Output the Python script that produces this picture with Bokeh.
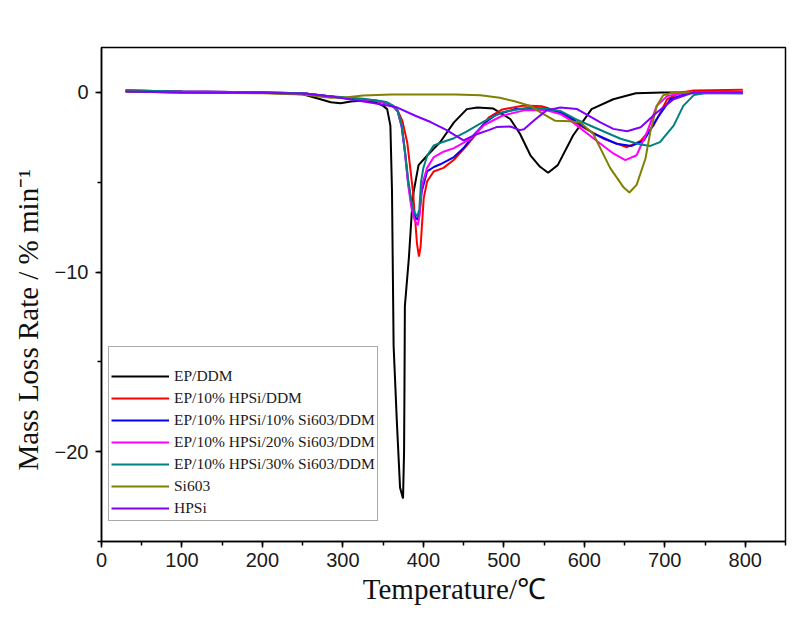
from bokeh.plotting import figure
from bokeh.models import Legend, LegendItem, SingleIntervalTicker, Range1d
from bokeh.embed import file_html
from bokeh.resources import INLINE

# ---- data (Temperature in C, mass loss rate in %/min) ----
ep_ddm_t = [30, 100, 200, 250, 270, 285, 297, 310, 325, 340, 350, 355, 359, 361, 363, 367, 371, 374.7, 376, 376.5, 377,
            382, 386, 388, 394, 405, 421, 438, 454, 467, 487, 508, 520, 533, 545, 555, 567, 586, 609, 636, 664, 697, 750, 797]
ep_ddm_v = [0.05, 0.0, -0.02, -0.1, -0.35, -0.55, -0.6, -0.5, -0.45, -0.55, -0.75, -0.93, -1.85, -5.5, -14.1, -18.3, -22.0, -22.6, -20.0, -16.5, -11.9,
            -9.2, -6.4, -5.5, -4.05, -3.5, -2.76, -1.67, -0.93, -0.84, -0.9, -1.48, -2.3, -3.5, -4.14, -4.47, -4.05, -2.4, -0.93, -0.38, -0.05, 0.0, 0.0, 0.0]

hpsi10_t = [30, 100, 200, 250, 280, 310, 340, 355, 363, 368, 374, 380, 387, 390, 392, 394.5, 396.5, 398.3, 400.4, 404.6, 412.8, 425, 438, 453, 464,
            481, 498, 525, 547, 570, 597, 625, 653, 670, 686, 703, 720, 736, 797]
hpsi10_v = [0.1, 0.05, 0.0, -0.05, -0.2, -0.35, -0.45, -0.6, -0.8, -1.0, -1.6, -2.8, -5.5, -7.2, -8.4, -9.14, -8.6, -7.35, -5.9, -4.96, -4.4, -4.2, -3.75, -3.0, -2.4,
            -1.4, -0.95, -0.73, -0.77, -1.1, -1.9, -2.6, -3.05, -2.7, -1.85, -0.38, 0.0, 0.1, 0.15]

si10_t = [30, 100, 200, 250, 280, 310, 340, 355, 363, 368, 373, 377, 381, 385, 389, 393, 395.5, 398, 404.6, 413, 421, 438, 450, 464, 479, 490, 514, 553,
          570, 581, 612, 640, 659, 674, 690, 707, 728, 797]
si10_v = [0.1, 0.05, 0.0, -0.05, -0.2, -0.35, -0.45, -0.6, -0.8, -1.05, -1.9, -3.3, -5.0, -6.2, -6.9, -7.1, -6.6, -5.5, -4.4, -4.15, -4.0, -3.6, -3.1, -2.3, -1.6, -1.25, -0.93, -0.9,
          -1.12, -1.35, -2.3, -2.86, -2.98, -2.67, -1.48, -0.38, -0.05, -0.05]

si20_t = [30, 100, 200, 250, 280, 310, 340, 355, 363, 368, 373, 377, 381, 385, 389, 393, 395.5, 398, 404.6, 413, 425, 438, 458, 476, 498, 525, 553,
          570, 581, 612, 636, 651, 665, 678, 690, 703, 728, 797]
si20_v = [0.1, 0.05, 0.0, -0.05, -0.2, -0.35, -0.45, -0.6, -0.8, -1.05, -1.85, -3.3, -5.1, -6.4, -7.1, -7.4, -6.8, -5.2, -4.2, -3.6, -3.3, -3.1, -2.6, -1.8, -1.3, -1.0, -1.0,
          -1.2, -1.5, -2.58, -3.4, -3.77, -3.5, -2.2, -0.75, -0.2, 0.0, 0.0]

si30_t = [30, 100, 200, 250, 280, 310, 325, 347, 355, 363, 368, 373, 377, 381, 385, 389, 392.5, 395, 397, 400, 405, 413, 425, 438, 453, 476, 498, 531, 550,
          570, 590, 612, 645, 670, 682, 694, 711, 723, 736, 752, 797]
si30_v = [0.1, 0.05, 0.0, -0.05, -0.2, -0.3, -0.35, -0.48, -0.55, -0.75, -1.0, -1.8, -3.2, -4.8, -6.0, -6.7, -6.9, -6.5, -5.0, -4.2, -3.5, -2.95, -2.75, -2.55, -2.2, -1.6, -1.1, -0.84, -0.9,
          -1.03, -1.5, -1.94, -2.58, -2.9, -2.98, -2.77, -1.85, -0.75, -0.15, -0.02, -0.05]

si603_t = [30, 100, 200, 250, 284, 300, 325, 360, 409, 440, 471, 495, 512, 533, 545, 564, 582, 595, 611, 632, 649, 656, 665, 676, 682, 690, 698, 711, 797]
si603_v = [0.05, 0.0, -0.05, -0.12, -0.3, -0.3, -0.17, -0.12, -0.11, -0.12, -0.16, -0.3, -0.48, -0.75, -1.1, -1.58, -1.6, -1.67, -2.3, -4.2, -5.3, -5.57, -5.15, -3.68, -2.2, -0.75, -0.16, 0.0, 0.0]

hpsi_t = [30, 100, 200, 255, 290, 322, 347, 367, 390, 409, 429, 440, 450, 462, 481, 491, 508, 520, 525, 537, 553, 570, 591, 620, 636, 653, 670, 690, 711, 736, 797]
hpsi_v = [0.05, 0.0, -0.02, -0.07, -0.25, -0.48, -0.66, -0.83, -1.3, -1.65, -2.1, -2.4, -2.67, -2.4, -2.1, -1.93, -1.9, -2.1, -2.05, -1.58, -1.0, -0.84, -0.93, -1.67, -2.03, -2.16, -1.94, -1.12, -0.38, 0.0, 0.0]

series_names = ["EP/DDM", "EP/10% HPSi/DDM", "EP/10% HPSi/10% Si603/DDM", "EP/10% HPSi/20% Si603/DDM",
                "EP/10% HPSi/30% Si603/DDM", "Si603", "HPSi"]
series_t = [ep_ddm_t, hpsi10_t, si10_t, si20_t, si30_t, si603_t, hpsi_t]
series_v = [ep_ddm_v, hpsi10_v, si10_v, si20_v, si30_v, si603_v, hpsi_v]
series_colors = ["#000000", "#ff0000", "#0000ff", "#ff00ff", "#008080", "#808000", "#8000ff"]

x_ticks = [0, 100, 200, 300, 400, 500, 600, 700, 800]
y_ticks = [0, -10, -20]

p = figure(width=793, height=609, output_backend="svg", toolbar_location=None,
           x_range=Range1d(0, 850), y_range=Range1d(-25, 2.5),
           min_border_left=101, min_border_right=8, min_border_top=47, min_border_bottom=68)
p.background_fill_color = "white"
p.border_fill_color = "white"
p.grid.visible = False
p.outline_line_color = "black"
p.outline_line_width = 1.5

items = []
for name, t, v, c in zip(series_names, series_t, series_v, series_colors):
    r = p.line(t, v, line_color=c, line_width=2)
    items.append(LegendItem(label=name, renderers=[r]))

for ax in (p.xaxis[0], p.yaxis[0]):
    ax.axis_line_width = 1.5
    ax.major_tick_line_width = 1.5
    ax.minor_tick_line_width = 1.5
    ax.major_tick_out = 6
    ax.major_tick_in = 0
    ax.minor_tick_out = 4
    ax.minor_tick_in = 0
    ax.major_label_text_font = "Liberation Sans"
    ax.major_label_text_font_size = "20px"
    ax.major_label_text_color = "#1a1a1a"
    ax.axis_label_text_font = "Liberation Serif"
    ax.axis_label_text_font_style = "normal"
    ax.axis_label_text_font_size = "29px"
    ax.axis_label_text_color = "#111111"

p.xaxis.ticker = SingleIntervalTicker(interval=100, num_minor_ticks=2)
p.yaxis.ticker = SingleIntervalTicker(interval=10, num_minor_ticks=2)
p.xaxis.major_label_standoff = 5
p.yaxis.major_label_standoff = 7
# non-breaking spaces only nudge the centred titles to the reference positions
p.xaxis.axis_label = "\u00a0\u00a0\u00a0Temperature/\u2103"
p.yaxis.axis_label = "Mass Loss Rate / % min\u207b\u00b9" + "\u00a0" * 7
p.xaxis.axis_label_standoff = 3
p.yaxis.axis_label_standoff = 8

legend = Legend(items=items, location=(7, 20))
legend.title = " "
legend.title_text_font_size = "12px"
legend.title_standoff = 3
legend.padding = 2
legend.spacing = 2
legend.glyph_width = 58
legend.glyph_height = 20
legend.label_height = 20
legend.label_standoff = 5
legend.label_text_font = "Liberation Serif"
legend.label_text_font_size = "15.5px"
legend.label_text_color = "#1a1a1a"
legend.border_line_color = "#555555"
legend.border_line_width = 1
legend.background_fill_color = "white"
legend.background_fill_alpha = 1.0
p.add_layout(legend)

open("out.html", "w").write(file_html(p, INLINE))
